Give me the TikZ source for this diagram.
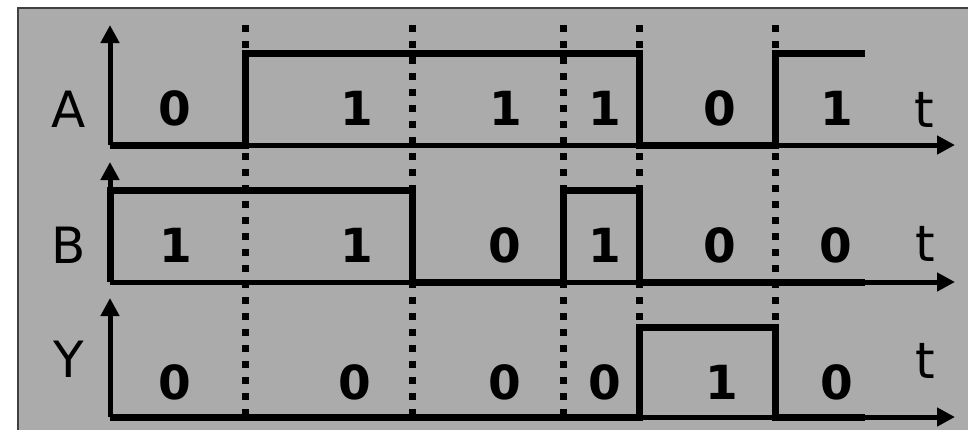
\documentclass[tikz,border=0pt]{standalone}
\usepackage{fontspec}
\setmainfont{DejaVu Sans}
\usetikzlibrary{arrows.meta}
\definecolor{bg}{RGB}{171,171,171}
\begin{document}
\begin{tikzpicture}[x=1pt,y=-1pt,
  axis/.style={line width=5pt,-{Triangle[length=18pt,width=18pt]}},
  sig/.style={line width=7pt,line join=miter},
  dots/.style={line width=7pt,dash pattern=on 7pt off 9pt},
  lbl/.style={font=\fontsize{50}{60}\selectfont,inner sep=0pt},
  val/.style={font=\fontsize{47}{56}\selectfont\bfseries,inner sep=0pt}]
\useasboundingbox (0,0) rectangle (968,429);
\fill[bg, draw=black!75, line width=2pt] (18,8) rectangle (1000,460);
% origins
\coordinate (oA) at (110,145);
\coordinate (oB) at (110,282);
\coordinate (oY) at (110,417);
\coordinate (tA) at (110,25);
\coordinate (tB) at (110,162);
\coordinate (tY) at (110,298);
\coordinate (eA) at (955,145);
\coordinate (eB) at (955,282);
\coordinate (eY) at (955,417);
% dotted lines
\foreach \x in {245,412,563,639,775}
  \draw[dots] (\x,25) -- (\x,417);
% axes
\draw[axis] (oA) -- (tA);
\draw[axis] (oA) -- (eA);
\draw[axis] (oB) -- (tB);
\draw[axis] (oB) -- (eB);
\draw[axis] (oY) -- (tY);
\draw[axis] (oY) -- (eY);
% signals
\draw[sig] (oA) -- (245,145) -- (245,53) -- (639,53) -- (639,145) -- (775,145) -- (775,53) -- (865,53);
\draw[sig] (oB) -- (110,190) -- (412,190) -- (412,282) -- (563,282) -- (563,190) -- (639,190) -- (639,282) -- (865,282);
\draw[sig] (oY) -- (639,417) -- (639,327) -- (775,327) -- (775,417) -- (865,417);
% labels
\node[lbl] (LA) at (69,109) {A};
\node[lbl] (LB) at (69,245) {B};
\node[lbl] (LY) at (69,359) {Y};
\node[lbl] (tlA) at (924,110) {t};
\node[lbl] (tlB) at (925,244) {t};
\node[lbl] (tlY) at (925,361) {t};
% values A
\node[val] (a1) at (175,108) {0};
\node[val] (a2) at (357,108) {1};
\node[val] (a3) at (506,108) {1};
\node[val] (a4) at (605,108) {1};
\node[val] (a5) at (720,108) {0};
\node[val] (a6) at (837,108) {1};
% values B
\node[val] (b1) at (176,245) {1};
\node[val] (b2) at (357,245) {1};
\node[val] (b3) at (505,245) {0};
\node[val] (b4) at (605,245) {1};
\node[val] (b5) at (720,245) {0};
\node[val] (b6) at (836,245) {0};
% values Y
\node[val] (y1) at (175,382) {0};
\node[val] (y2) at (355,382) {0};
\node[val] (y3) at (505,382) {0};
\node[val] (y4) at (605,382) {0};
\node[val] (y5) at (722,382) {1};
\node[val] (y6) at (837,382) {0};
\end{tikzpicture}
\end{document}
